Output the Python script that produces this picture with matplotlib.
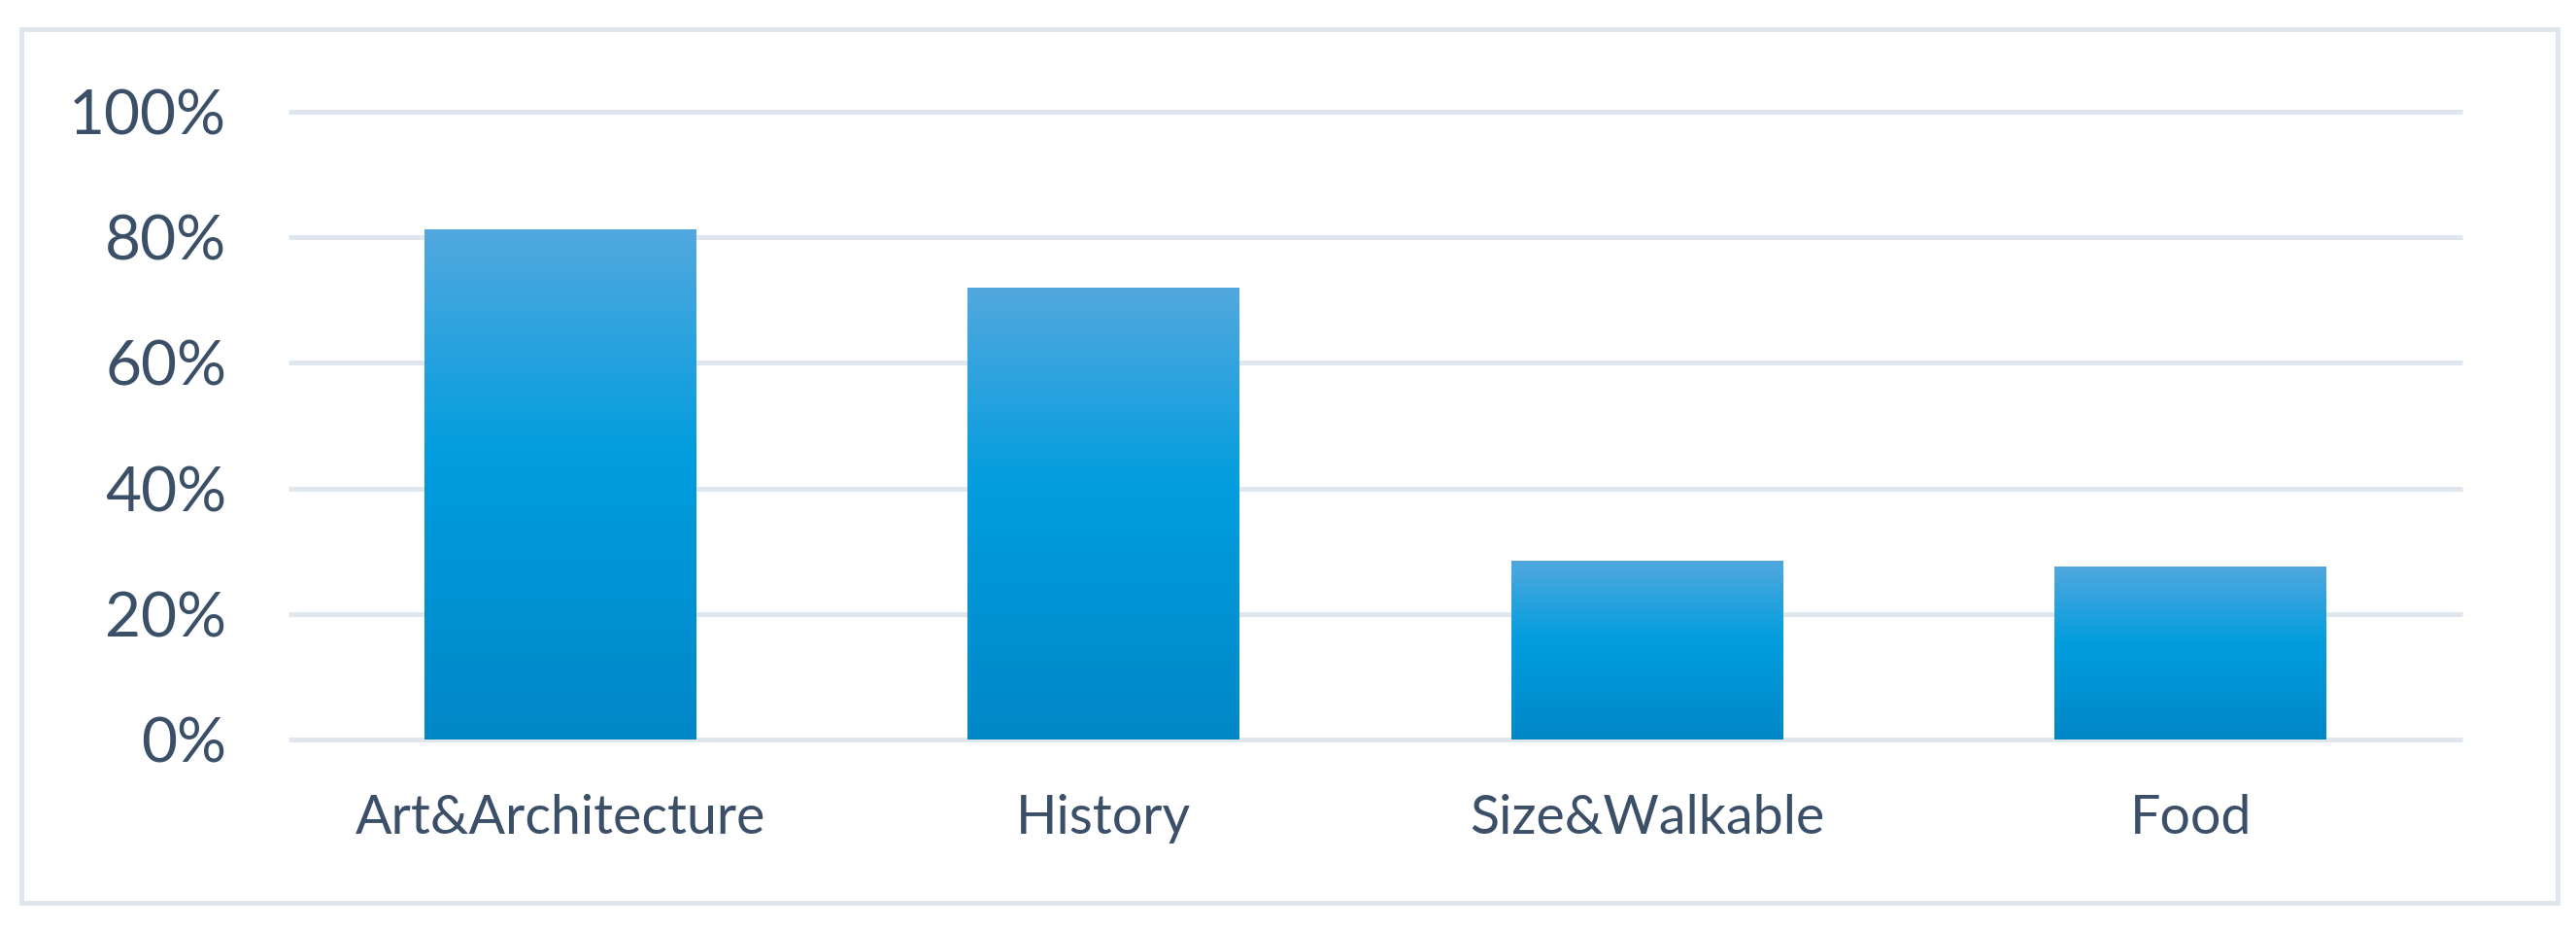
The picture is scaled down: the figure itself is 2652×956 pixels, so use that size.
import matplotlib
matplotlib.use("Agg")
import matplotlib.pyplot as plt
import numpy as np
from matplotlib.colors import LinearSegmentedColormap
from matplotlib.patches import Rectangle

categories = ["Art&Architecture", "History", "Size&Walkable", "Food"]
shares = [0.813, 0.720, 0.285, 0.276]
yticks = [0, 0.2, 0.4, 0.6, 0.8, 1.0]
ytick_labels = ["0%", "20%", "40%", "60%", "80%", "100%"]

text_col = "#3b5068"
grid_col = "#dfe6ed"

plt.rcParams['font.family'] = ['Lato', 'DejaVu Sans']

fig = plt.figure(figsize=(26.52, 9.56), dpi=100)
fig.patch.set_facecolor("white")

# outer frame
fig.patches.append(Rectangle((22 / 2652, 1 - 929 / 956), (2633 - 22) / 2652, (929 - 30) / 956,
                             transform=fig.transFigure, fill=False, edgecolor=grid_col,
                             linewidth=3.6, zorder=0))

ax = fig.add_axes([297 / 2652, 1 - 761 / 956, (2535 - 297) / 2652, (761 - 115) / 956])
ax.set_xlim(-0.5, len(categories) - 0.5)
ax.set_ylim(0, 1)

for s in ax.spines.values():
    s.set_visible(False)

# gridlines
ax.hlines(yticks, -0.5, len(categories) - 0.5, colors=grid_col, linewidth=3.6,
          clip_on=False, zorder=1)

# bars with vertical gradient
cmap = LinearSegmentedColormap.from_list("barblue", [(0.0, "#0087c8"), (0.55, "#009ddf"),
                                                    (1.0, "#52a8de")])
grad = np.linspace(0, 1, 256).reshape(-1, 1)
x = np.arange(len(categories))
bars = ax.bar(x, shares, width=0.5, color="none", edgecolor="none", zorder=2)
for b in bars:
    x0, y0 = b.get_x(), b.get_y()
    w, h = b.get_width(), b.get_height()
    im = ax.imshow(grad, cmap=cmap, origin="lower", aspect="auto",
                   extent=(x0, x0 + w, y0, y0 + h), zorder=2, interpolation="bicubic")
    im.set_clip_path(b)
ax.set_xlim(-0.5, len(categories) - 0.5)
ax.set_ylim(0, 1)

ax.set_yticks(yticks)
ax.set_yticklabels(ytick_labels)
ax.set_xticks(x)
ax.set_xticklabels(categories)
ax.tick_params(axis="y", length=0, pad=46, labelsize=46, labelcolor=text_col)
ax.tick_params(axis="x", length=0, pad=40, labelsize=40, labelcolor=text_col)

fig.savefig("out.png", dpi=100, facecolor="white")
